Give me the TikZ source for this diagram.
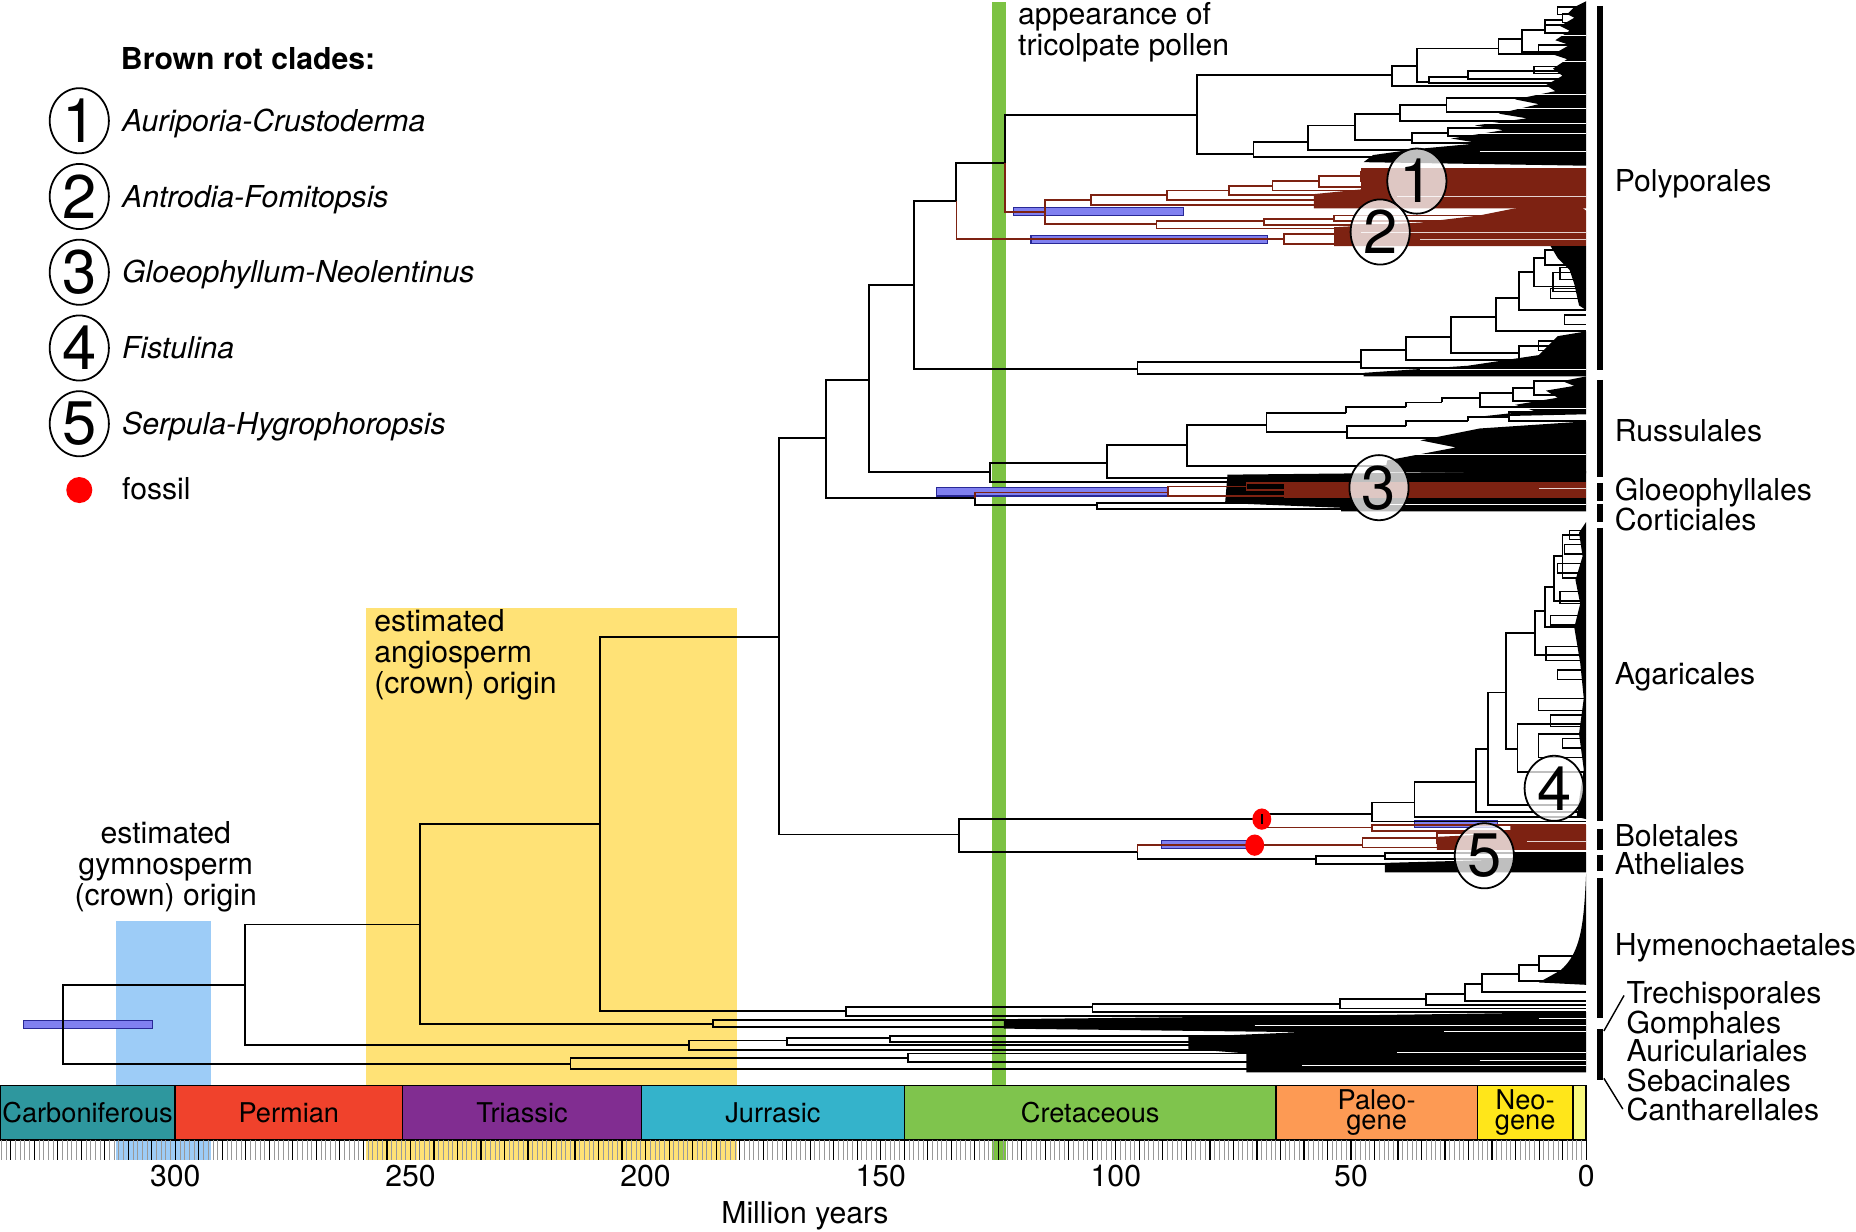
\documentclass[tikz,border=0pt]{standalone}
\usepackage{fontspec}
\setmainfont{TeX Gyre Heros}
\usetikzlibrary{shapes.geometric}

\definecolor{rotbrown}{RGB}{125,34,18}
\definecolor{cibar}{RGB}{128,128,240}
\definecolor{ciedge}{RGB}{40,40,150}
\definecolor{pollen}{RGB}{124,194,67}
\definecolor{angio}{RGB}{255,226,118}
\definecolor{gymno}{RGB}{157,204,247}
\definecolor{carb}{RGB}{46,151,158}
\definecolor{perm}{RGB}{240,66,44}
\definecolor{tria}{RGB}{129,45,145}
\definecolor{jura}{RGB}{52,179,203}
\definecolor{cret}{RGB}{127,196,77}
\definecolor{paleo}{RGB}{253,154,84}
\definecolor{neo}{RGB}{255,230,26}
\definecolor{quat}{RGB}{249,249,127}

\tikzset{
  br/.style={line width=1.6pt},
  rb/.style={line width=1.5pt, draw=rotbrown},
  twig/.style={line width=1.1pt},
  cibox/.style={fill=cibar, draw=ciedge, line width=1pt},
  num/.style={ellipse, draw, line width=1.5pt, minimum width=50pt, minimum height=55pt,
    inner sep=0pt, fill=white, font=\fontsize{52}{52}\selectfont},
  onnum/.style={num, fill opacity=0.75, text opacity=1},
  lbl/.style={anchor=base west, inner sep=0pt, font=\fontsize{25.5}{26}\selectfont},
  leg/.style={lbl, font=\fontsize{25.5}{26}\selectfont\itshape},
  note/.style={anchor=north west, inner sep=0pt, align=left, font=\fontsize{25.5}{26}\selectfont},
  per/.style={font=\fontsize{23}{17}\selectfont, align=center, inner sep=0pt},
  ordbar/.style={line width=5pt},
}

\begin{document}
\begin{tikzpicture}[x=1pt,y=-1pt]
\useasboundingbox (0,0) rectangle (1568,1040);

% background bands
\fill[gymno] (98,778) rectangle (178,980);
\fill[angio] (309,514) rectangle (623,980);
\fill[pollen] (838,2) rectangle (850,980);

\node[note] (angtxt) at (316,515) {estimated\\angiosperm\\(crown) origin};
\node[note, align=center, anchor=north] (gymtxt) at (140,694) {estimated\\gymnosperm\\(crown) origin};
\node[note] (poltxt) at (860,2) {appearance of\\tricolpate pollen};

% legend
\node[lbl, font=\fontsize{25.5}{26}\selectfont\bfseries] (legtitle) at (102,59) {Brown rot clades:};
\foreach \k/\y/\nm in {1/102/Auriporia-Crustoderma, 2/166/Antrodia-Fomitopsis,
    3/230/Gloeophyllum-Neolentinus, 4/294/Fistulina, 5/358/Serpula-Hygrophoropsis}{
  \node[num] (leg\k) at (67,\y) {\k};
  \node[leg] (legtxt\k) at (103,\y+9) {\nm};
}
\fill[red] (67,414) circle (11) coordinate (legdot);
\node[lbl] (fossiltxt) at (103,422) {fossil};

% ---- tree nodes
\foreach \n/\x/\y in {root/53/865, n1/207/832, n2/355/781, n3/507/696, n4/658/538,
    n5/698/370, n6/734/321, n7/772/241, n8/808/170, n9/849/138,
    pA/1011/97, pB/1176/63, pD/1197/56, pF/1266/41, pG/1286/33, pH/1305/25, pI/1320/17,
    pE/1207/69, pP/1240/65, pC/1059/130, pJ/1105/120, pK/1145/106, pL/1183/96, pM/1222/89,
    pN/1193/118, pO/1223/112,
    b1/883/179, c1a/922/169, c1b/986/165, c1c/1038/161, c1d/1075/157, c1e/1114/153, c1f/1150/149,
    c2a/977/189, c2b/1068/187, c2c/1127/185, c2d/1085/202,
    q0/961/312, q1/1150/306, q2/1188/296, q3/1226/285, q4/1264/268, q5/1283/298,
    q6/1283/252, q7/1296/230, q8/1305/218,
    r0/836/399, r1/935/391, r2/1003/376, r3/1070/359, r4/1137/349, r5/1188/344,
    r6/1218/340, r7/1250/336, r8/1278/332, r9/1296/328,
    s1/1138/365, s2/1188/360, s3/1240/356, s4/1275/352,
    g0/824/421, g1/987/416, g2/1053/411, co/927/427,
    bo0/810/705, bo1/1066/692, ag0/1159/688, ag1/1195/678, ag2/1247/661, ag3/1257/633,
    ag4/1272/585, ag6/1297/535, ag7/1282/633, ag8/1305/516, ag9/1313/496, ag10/1320/470,
    bl0/1159/699, at0/961/720, bl1/1151/714, bl2/1214/708, at1/1112/726, at2/1170/723,
    h0/715/854, h1/923/851, h2/1132/848, h3/1205/844, h4/1238/840, h5/1252/831,
    h6/1283/823, h7/1300/815,
    l2/602/865, l1/582/883, l1b/665/879, l1c/752/877, l0/482/899, l0b/767/894}
  \coordinate (\n) at (\x,\y);

% CI bars under the branches
\draw[cibox] (20,862) rectangle (129,869);
\draw[cibox] (856,175) rectangle (1000,182);
\draw[cibox] (871,199) rectangle (1071,206);
\draw[cibox] (791,412) rectangle (987,419);
\draw[cibox] (981,710) rectangle (1059,717);
\draw[cibox] (1195,693) rectangle (1265,699);

% dense tip masses
\fill (1340,1) -- (1330,6) -- (1324,12) -- (1330,15) -- (1318,22) -- (1326,26) -- (1314,34)
  -- (1326,38) -- (1312,46) -- (1324,50) -- (1312,58) -- (1320,64) -- (1306,72) -- (1314,77)
  -- (1280,84) -- (1300,88) -- (1266,96) -- (1290,100) -- (1246,106) -- (1270,110)
  -- (1226,117) -- (1250,121) -- (1196,126) -- (1160,131) -- (1152,137) -- (1340,140) -- cycle;
\fill[rotbrown] (1150,142) -- (1340,142) -- (1340,176) -- (1110,176) -- (1110,164) -- (1150,160) -- cycle;
\fill[rotbrown] (1280,176) -- (1332,172) -- (1340,178) -- (1340,208) -- (1127,208) -- (1127,192)
  -- (1200,188) -- (1250,182) -- cycle;
\fill (1310,208) -- (1340,208) -- (1340,262) -- (1334,258) -- (1330,240) -- (1326,228) -- (1316,218) -- cycle;
\fill (1316,284) -- (1340,280) -- (1340,318) -- (1152,318) -- (1152,315) -- (1240,309) -- (1300,300) -- cycle;
\fill (1340,318) -- (1320,322) -- (1330,326) -- (1306,330) -- (1316,336) -- (1280,342)
  -- (1296,347) -- (1250,352) -- (1340,350) -- cycle;
\fill (1250,362) -- (1340,356) -- (1340,400) -- (1170,399) -- (1172,389) -- (1230,378) -- (1200,372) -- cycle;
\fill (1037,401) -- (1340,398) -- (1340,432) -- (1133,432) -- (1133,429) -- (1035,425) -- cycle;
\fill[rotbrown] (1085,408) -- (1340,408) -- (1340,421) -- (1085,421) -- cycle;
\fill (1340,441) -- (1334,450) -- (1337,470) -- (1331,490) -- (1335,510) -- (1330,530) -- (1335,560)
  -- (1338,590) -- (1334,620) -- (1338,650) -- (1332,690) -- (1340,692) -- cycle;
\fill[rotbrown] (1276,697) -- (1340,697) -- (1340,718) -- (1214,718) -- (1214,707) -- (1276,704) -- cycle;
\fill (1279,720) -- (1340,720) -- (1340,737) -- (1170,737) -- (1170,729) -- (1279,726) -- cycle;
\fill (1340,738) .. controls (1338,780) and (1336,805) .. (1318,820) -- (1300,830) -- (1340,832) -- cycle;
\fill (848,861) -- (1130,858) -- (1340,855) -- (1340,906) -- (1053,906) -- (1053,890)
  -- (1004,886) -- (1004,876) -- (1100,872) -- (848,869) -- cycle;
% white gaps inside the masses
\foreach \xa/\y in {1320/30, 1316/52, 1290/80, 1250/92, 1230/104, 1210/113, 1250/128, 1300/322,
    1260/345, 1220/370, 1180/384, 1100/404, 1170/426, 1060/866, 1220/871, 1120/880, 1180/889,
    1250/896, 1100/900, 1300/860, 1320/730, 1200/312}
  \draw[white, line width=0.7pt] (\xa,\y) -- (1340,\y);
\foreach \xa/\y in {1200/146, 1160/152, 1240/158, 1180/166, 1260/190, 1150/196, 1200/202, 1300/413, 1240/702, 1290/711}
  \draw[white!80!rotbrown, line width=0.7pt] (\xa,\y) -- (1340,\y);

% ---- branches (child -| parent)
\foreach \p/\c in {root/n1, root/l0, n1/n2, n1/l1, n2/n3, n2/l2, n3/n4, n3/h0,
    n4/n5, n4/bo0, n5/n6, n5/g0, n6/n7, n6/r0, n7/n8, n7/q0, n9/pA,
    pA/pB, pA/pC, pB/pD, pD/pF, pD/pE, pE/pP, pF/pG, pG/pH, pH/pI,
    pC/pJ, pJ/pK, pK/pL, pK/pN, pN/pO, pL/pM,
    q0/q1, q1/q2, q2/q3, q3/q4, q3/q5, q4/q6, q6/q7, q7/q8,
    r0/r1, r1/r2, r2/r3, r3/r4, r4/r5, r5/r6, r6/r7, r7/r8, r8/r9, r3/s1, s1/s2, s2/s3, s3/s4,
    g0/co, bo0/bo1, bo0/at0, bo1/ag0, ag0/ag1, ag1/ag2, ag2/ag3, ag3/ag4, ag4/ag6, ag4/ag7,
    ag6/ag8, ag8/ag9, ag9/ag10, at0/at1, at1/at2,
    h0/h1, h1/h2, h2/h3, h3/h4, h4/h5, h5/h6, h6/h7, l1/l1b, l1b/l1c, l0/l0b}
  \draw[br] (\c) -| (\p);
\draw[br] (n9) -| (n8);
% brown rot branches
\foreach \p/\c in {n9/b1, n8/c2d, b1/c1a, c1a/c1b, c1b/c1c, c1c/c1d, c1d/c1e, c1e/c1f,
    b1/c2a, c2a/c2b, c2b/c2c, g0/g1, g1/g2, bo1/bl0, at0/bl1, bl1/bl2}
  \draw[rb] (\c) -| (\p);

% tips running to the present
\foreach \p/\y in {pB/73, pE/70, pP/60, pP/67, pF/46, pG/44, pH/21, pH/28, pI/12, pI/19,
    pC/133, pJ/127, pN/121, pO/108, pO/115, pL/102, pM/83, pM/95,
    q0/316, q1/311, q2/304, q5/292, q5/303, q4/280, q6/262, q7/242, q8/211, q8/224,
    r0/407, r1/404, r2/394, r9/322, r9/334, r8/339, r7/344, s1/370, s4/348, s4/356,
    co/425, co/430, ag0/694, ag1/690, ag2/686, ag3/680, ag7/612, ag7/652, ag6/553,
    ag8/530, ag9/508, ag10/452, ag10/488, at1/730, at2/721, at2/726,
    h0/858, h1/855, h2/852, h3/849, h4/846, h5/838, h6/829, h7/808, h7/820,
    l2/862, l2/868, l1/887, l1b/883, l1c/875, l1c/880, l0/903, l0b/890, l0b/897}
  \draw[br] (\p) |- (1340,\y);
\foreach \p/\y in {c1a/173, c1b/169, c1c/165, c1d/161, c1e/158, c1f/145, c1f/153,
    c2a/193, c2b/190, c2c/182, c2c/187, c2d/198, c2d/206, g1/419, g2/408, g2/414,
    bl0/697, bl0/702, bl1/716, bl2/704, bl2/712}
  \draw[rb] (\p) |- (1340,\y);
% small combs near the present
\foreach \x/\ya/\yb in {1326/448/456, 1322/460/468, 1316/476/484, 1318/500/510, 1310/520/528,
    1306/546/558, 1316/566/574, 1300/590/600, 1310/604/614, 1320/624/632, 1300/620/640,
    1318/226/236, 1310/244/252, 1322/266/274, 1300/288/296, 1312/230/246,
    1300/38/44, 1296/56/62, 1316/6/12}
  \draw[twig] (1340,\ya) -| (\x,\yb) -- (1340,\yb);

% fossils
\fill[red] (1066,692) ellipse (8 and 9) coordinate (fos1);
\fill[red] (1060,714) ellipse (8 and 9) coordinate (fos2);
\draw[br] (fos1 |- bo1) ++(0,-4) -- ++(0,8);

% numbered clade marks
\node[onnum] (mk1) at (1197,153) {1};
\node[onnum] (mk2) at (1166,196) {2};
\node[onnum] (mk3) at (1165,412) {3};
\node[onnum] (mk4) at (1313,666) {4};
\node[onnum] (mk5) at (1254,723) {5};

% order bars
\foreach \a/\b in {5/313, 321/403, 408/423, 426/441, 446/694, 700/718, 722/736, 742/860, 869/912}
  \draw[ordbar] (1352,\a) -- (1352,\b);
\foreach \nm/\y in {Polyporales/153, Russulales/364, Gloeophyllales/414, Corticiales/439,
    Agaricales/569, Boletales/706, Atheliales/730, Hymenochaetales/798}
  \node[lbl] (ord\nm) at (1364,\y+9) {\nm};
\foreach \nm/\y in {Trechisporales/839, Gomphales/864, Auriculariales/888, Sebacinales/913, Cantharellales/938}
  \node[lbl] (ord\nm) at (1374,\y+9) {\nm};
\draw[line width=1.2pt] (1355,871) -- (1372,841);
\draw[line width=1.2pt] (1355,911) -- (1371,937);

% geological periods
\foreach \a/\b/\c/\nm/\txt in {0/148/carb/cb/Carboniferous, 148/340/perm/pm/Permian,
    340/542/tria/tr/Triassic, 542/764/jura/ju/Jurrasic, 764/1078/cret/cr/Cretaceous,
    1078/1248/paleo/pg/{Paleo-\\gene}, 1248/1329/neo/ng/{Neo-\\gene}, 1329/1340/quat/qt/{}}{
  \draw[fill=\c, line width=1.2pt] (\a,917) rectangle (\b,963);
  \node[per] (per\nm) at ({(\a+\b)/2},940) {\txt};
}
% time ticks
\foreach \t in {0,...,337}
  \draw[black!40, line width=0.7pt] ({1340-3.973*\t},963) -- ++(0,17);
\foreach \t in {0,5,...,335}
  \draw[line width=1pt] ({1340-3.973*\t},963) -- ++(0,17);
\foreach \t in {0,50,...,300}
  \node[anchor=base, inner sep=0pt, font=\fontsize{25.5}{26}\selectfont] (ax\t) at ({1340-3.973*\t},1002) {\t};
\node[anchor=base, inner sep=0pt, font=\fontsize{25.5}{26}\selectfont] (axtitle) at (680,1034) {Million years};
\end{tikzpicture}
\end{document}
